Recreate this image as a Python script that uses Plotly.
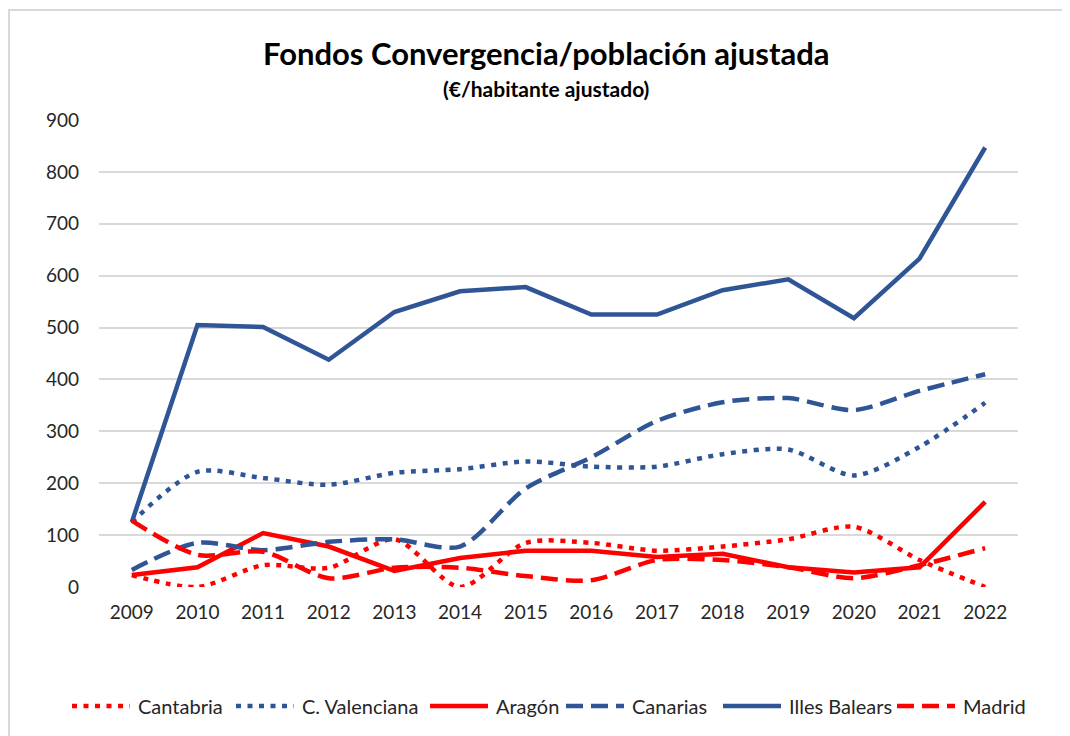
import plotly.graph_objects as go

years = ["2009", "2010", "2011", "2012", "2013", "2014", "2015",
         "2016", "2017", "2018", "2019", "2020", "2021", "2022"]

cantabria = [23, 0, 42, 37, 92, 0, 85, 85, 70, 78, 92, 116, 52, 0]
c_valenciana = [125, 222, 210, 197, 220, 227, 242, 232, 232, 256, 265, 215, 270, 355]
aragon = [23, 38, 104, 78, 31, 56, 70, 70, 58, 64, 38, 28, 38, 164]
canarias = [33, 85, 71, 87, 92, 78, 190, 250, 320, 356, 364, 341, 378, 410]
illes_balears = [125, 505, 501, 438, 530, 570, 578, 525, 525, 572, 593, 518, 633, 847]
madrid = [128, 62, 68, 17, 37, 37, 21, 13, 52, 52, 38, 17, 42, 75]

RED = "#FF0000"
BLUE = "#2F5597"
DOT = "5px,6.5px"
DASH = "17px,8px"

series = [
    ("Cantabria", cantabria, RED, DOT, "spline"),
    ("C. Valenciana", c_valenciana, BLUE, DOT, "spline"),
    ("Aragón", aragon, RED, "solid", "linear"),
    ("Canarias", canarias, BLUE, DASH, "spline"),
    ("Illes Balears", illes_balears, BLUE, "solid", "linear"),
    ("Madrid", madrid, RED, DASH, "spline"),
]

FONT = "Lato, 'Open Sans', sans-serif"
OFF = 8  # page body margin
L, R, T, B = 99, 1018, 120, 587  # target plot area in screen px
W, H = 1070 - 2 * OFF, 736 - OFF
PW, PH = R - L, B - T
LW = 4.5


def px(x):
    return (x - L) / PW


def py(y):
    return (B - y) / PH


fig = go.Figure()
for name, vals, color, dash, shape in series:
    fig.add_trace(go.Scatter(
        x=years, y=vals, name=name, mode="lines",
        line=dict(color=color, width=LW, dash=dash, shape=shape, smoothing=0.8),
    ))

# legend drawn manually (long Excel-style symbols)
legend_starts = [72, 236, 430, 566, 723, 897]
LEG_Y = 706
shapes = [
    dict(type="rect", xref="paper", yref="paper",
         x0=px(9), x1=px(1120), y0=py(780), y1=py(10),
         line=dict(color="#D9D9D9", width=2), fillcolor="rgba(0,0,0,0)", layer="below"),
]
annotations = [
    dict(text="<b>Fondos Convergencia/población ajustada</b>", xref="paper", yref="paper",
         x=px(546), y=py(53), xanchor="center", yanchor="middle",
         showarrow=False, font=dict(family=FONT, size=31, color="black")),
    dict(text="<b>(€/habitante ajustado)</b>", xref="paper", yref="paper",
         x=px(546), y=py(89), xanchor="center", yanchor="middle",
         showarrow=False, font=dict(family=FONT, size=21, color="black")),
]
for (name, vals, color, dash, shape), xs in zip(series, legend_starts):
    shapes.append(dict(type="line", xref="paper", yref="paper",
                       x0=px(xs), x1=px(xs + 58), y0=py(LEG_Y), y1=py(LEG_Y),
                       line=dict(color=color, width=LW, dash=dash)))
    annotations.append(dict(text=name, xref="paper", yref="paper",
                            x=px(xs + 64), y=py(LEG_Y), xanchor="left", yanchor="middle",
                            showarrow=False, font=dict(family=FONT, size=20, color="#262626")))

fig.update_layout(
    width=W, height=H,
    margin=dict(l=L - OFF, r=W + OFF - R, t=T - OFF, b=H + OFF - B),
    paper_bgcolor="white", plot_bgcolor="white",
    font=dict(family=FONT, size=19, color="#262626"),
    showlegend=False,
    xaxis=dict(type="category", range=[-0.5, 13.5], showgrid=False, showline=False,
               ticks="", tickfont=dict(size=19), ticklabelstandoff=12),
    yaxis=dict(range=[0, 900], dtick=100, showgrid=True, gridcolor="#D9D9D9", gridwidth=2,
               zeroline=False, showline=False, ticks="", tickfont=dict(size=19),
               ticklabelstandoff=19),
    annotations=annotations,
    shapes=shapes,
)

fig.write_html("out.html")
